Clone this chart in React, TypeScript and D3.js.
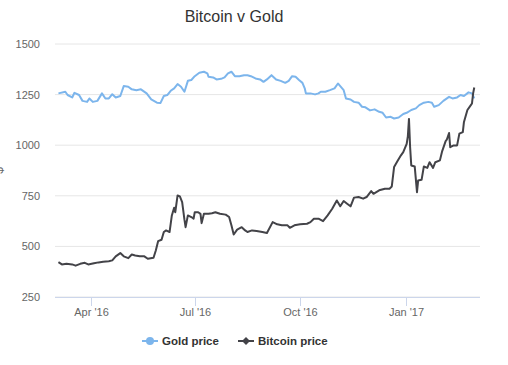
import { line, scaleLinear, scaleTime, timeParse } from 'd3'

const WIDTH = 508
const HEIGHT = 365
const LEFT = 55
const RIGHT = 480
const TOP = 44
const BOTTOM = 297

const goldDates = [
  '2016-03-04', '2016-03-10', '2016-03-12', '2016-03-16', '2016-03-18', '2016-03-22', '2016-03-25', '2016-03-29',
  '2016-03-31', '2016-04-03', '2016-04-07', '2016-04-11', '2016-04-14', '2016-04-17', '2016-04-20', '2016-04-23',
  '2016-04-27', '2016-04-30', '2016-05-04', '2016-05-07', '2016-05-11', '2016-05-15', '2016-05-20', '2016-05-24',
  '2016-05-29', '2016-06-01', '2016-06-04', '2016-06-07', '2016-06-10', '2016-06-13', '2016-06-16', '2016-06-19',
  '2016-06-22', '2016-06-25', '2016-06-28', '2016-07-01', '2016-07-05', '2016-07-09', '2016-07-12', '2016-07-13',
  '2016-07-17', '2016-07-20', '2016-07-24', '2016-07-27', '2016-07-30', '2016-08-02', '2016-08-05', '2016-08-09',
  '2016-08-13', '2016-08-16', '2016-08-19', '2016-08-23', '2016-08-27', '2016-08-30', '2016-09-02', '2016-09-06',
  '2016-09-10', '2016-09-14', '2016-09-18', '2016-09-21', '2016-09-24', '2016-09-27', '2016-09-30', '2016-10-03',
  '2016-10-05', '2016-10-06', '2016-10-10', '2016-10-14', '2016-10-17', '2016-10-19', '2016-10-23', '2016-10-27',
  '2016-10-31', '2016-11-03', '2016-11-05', '2016-11-08', '2016-11-10', '2016-11-14', '2016-11-17', '2016-11-21',
  '2016-11-24', '2016-11-27', '2016-12-01', '2016-12-05', '2016-12-09', '2016-12-12', '2016-12-15', '2016-12-19',
  '2016-12-22', '2016-12-26', '2016-12-30', '2017-01-02', '2017-01-06', '2017-01-10', '2017-01-13', '2017-01-17',
  '2017-01-21', '2017-01-24', '2017-01-26', '2017-01-30', '2017-02-03', '2017-02-08', '2017-02-11', '2017-02-15',
  '2017-02-18', '2017-02-21', '2017-02-25', '2017-02-28', '2017-03-02',
]
const goldPrices = [
  1256, 1264, 1248, 1236, 1259, 1248, 1219, 1214,
  1231, 1214, 1219, 1256, 1231, 1231, 1252, 1236,
  1243, 1292, 1289, 1276, 1272, 1276, 1256, 1226,
  1210, 1208, 1243, 1248, 1269, 1281, 1302, 1289,
  1264, 1318, 1322, 1341, 1358, 1363, 1355, 1338,
  1335, 1325, 1328, 1335, 1355, 1363, 1341, 1341,
  1346, 1346, 1341, 1330, 1325, 1313, 1325, 1346,
  1325, 1318, 1308, 1318, 1341, 1338, 1322, 1308,
  1281, 1256, 1256, 1251, 1256, 1264, 1264, 1272,
  1281, 1305, 1292, 1272, 1231, 1226, 1214, 1210,
  1190, 1187, 1172, 1177, 1165, 1160, 1137, 1140,
  1132, 1137, 1154, 1160, 1174, 1182, 1198, 1210,
  1214, 1210, 1190, 1198, 1219, 1239, 1231, 1236,
  1248, 1243, 1261, 1256, 1231,
]

const bitcoinDates = [
  '2016-03-04', '2016-03-07', '2016-03-11', '2016-03-16', '2016-03-19', '2016-03-23', '2016-03-27', '2016-03-30',
  '2016-04-04', '2016-04-08', '2016-04-12', '2016-04-17', '2016-04-20', '2016-04-23', '2016-04-27', '2016-04-30',
  '2016-05-04', '2016-05-07', '2016-05-10', '2016-05-14', '2016-05-18', '2016-05-21', '2016-05-26', '2016-05-28',
  '2016-05-30', '2016-06-02', '2016-06-04', '2016-06-06', '2016-06-09', '2016-06-11', '2016-06-13', '2016-06-14',
  '2016-06-16', '2016-06-18', '2016-06-20', '2016-06-22', '2016-06-23', '2016-06-25', '2016-06-28', '2016-06-30',
  '2016-07-01', '2016-07-04', '2016-07-06', '2016-07-07', '2016-07-09', '2016-07-13', '2016-07-16', '2016-07-19',
  '2016-07-23', '2016-07-28', '2016-07-31', '2016-08-02', '2016-08-04', '2016-08-07', '2016-08-11', '2016-08-14',
  '2016-08-16', '2016-08-20', '2016-08-24', '2016-08-29', '2016-09-02', '2016-09-07', '2016-09-11', '2016-09-15',
  '2016-09-20', '2016-09-22', '2016-09-26', '2016-10-01', '2016-10-07', '2016-10-10', '2016-10-13', '2016-10-17',
  '2016-10-21', '2016-10-25', '2016-10-29', '2016-11-02', '2016-11-05', '2016-11-08', '2016-11-11', '2016-11-14',
  '2016-11-17', '2016-11-21', '2016-11-25', '2016-11-28', '2016-12-02', '2016-12-04', '2016-12-09', '2016-12-14',
  '2016-12-18', '2016-12-20', '2016-12-22', '2016-12-25', '2016-12-28', '2016-12-30', '2017-01-02', '2017-01-03',
  '2017-01-04', '2017-01-05', '2017-01-06', '2017-01-09', '2017-01-11', '2017-01-12', '2017-01-15', '2017-01-17',
  '2017-01-20', '2017-01-22', '2017-01-25', '2017-01-27', '2017-01-31', '2017-02-02', '2017-02-05', '2017-02-06',
  '2017-02-08', '2017-02-09', '2017-02-12', '2017-02-15', '2017-02-17', '2017-02-20', '2017-02-21', '2017-02-24',
  '2017-02-27', '2017-02-28', '2017-03-01', '2017-03-02',
]
const bitcoinPrices = [
  422, 411, 414, 411, 405, 414, 419, 411,
  417, 421, 424, 427, 431, 451, 467, 451,
  442, 460, 455, 451, 451, 439, 444, 480,
  526, 533, 571, 579, 571, 653, 691, 669,
  752, 747, 719, 632, 595, 653, 645, 637,
  669, 669, 661, 615, 661, 661, 664, 669,
  661, 657, 645, 604, 559, 583, 595, 579,
  571, 579, 576, 571, 566, 620, 609, 604,
  604, 592, 604, 609, 612, 620, 637, 637,
  625, 653, 686, 727, 698, 724, 711, 698,
  741, 744, 736, 744, 773, 760, 777, 785,
  785, 796, 892, 922, 950, 966, 1007, 1043,
  1130, 990, 900, 895, 768, 826, 829, 895,
  888, 916, 888, 916, 925, 971, 1020, 1027,
  1060, 990, 999, 999, 1057, 1065, 1115, 1174,
  1198, 1206, 1256, 1285,
]

const yTicks = [250, 500, 750, 1000, 1250, 1500]
const xTickDates = ['2016-04-01', '2016-07-01', '2016-10-01', '2017-01-01']
const xTickLabels = ["Apr '16", "Jul '16", "Oct '16", "Jan '17"]
const seriesNames = ['Gold price', 'Bitcoin price']
const seriesColors = ['#7cb5ec', '#434348']

type Point = { date: Date; value: number }

const parseDate = timeParse('%Y-%m-%d')
const toPoints = (dates: string[], values: number[]): Point[] =>
  dates.map((d, i) => ({ date: parseDate(d) as Date, value: values[i] }))

const FONT = '"Liberation Sans", Arial, Helvetica, sans-serif'

export default function App() {
  const gold = toPoints(goldDates, goldPrices)
  const bitcoin = toPoints(bitcoinDates, bitcoinPrices)

  const xScale = scaleTime()
    .domain([parseDate('2016-03-01') as Date, parseDate('2017-03-07') as Date])
    .range([LEFT, RIGHT])
  const yScale = scaleLinear().domain([250, 1500]).range([BOTTOM, TOP])

  const path = line<Point>()
    .x((p) => xScale(p.date))
    .y((p) => yScale(p.value))

  const legendX = [142, 238]

  return (
    <svg
      width={WIDTH}
      height={HEIGHT}
      style={{ position: 'absolute', left: 0, top: 0, background: '#fff' }}
      fontFamily={FONT}
    >
      <text x={234} y={22} textAnchor="middle" fontSize={16} fill="#333333">
        Bitcoin v Gold
      </text>

      {yTicks.map((t) => (
        <g key={t}>
          <line x1={LEFT} x2={RIGHT} y1={yScale(t)} y2={yScale(t)} stroke="#e6e6e6" strokeWidth={1} />
          <text x={40} y={yScale(t) + 4} textAnchor="end" fontSize={11} fill="#666666">
            {t}
          </text>
        </g>
      ))}

      <text
        transform={`translate(3, ${(TOP + BOTTOM) / 2}) rotate(-90)`}
        textAnchor="middle"
        fontSize={12}
        fill="#666666"
      >
        $
      </text>

      <line x1={LEFT} x2={RIGHT} y1={BOTTOM + 0.5} y2={BOTTOM + 0.5} stroke="#ccd6eb" strokeWidth={1} />
      {xTickDates.map((d, i) => {
        const x = Math.round(xScale(parseDate(d) as Date)) + 0.5
        return (
          <g key={d}>
            <line x1={x} x2={x} y1={BOTTOM} y2={BOTTOM + 9} stroke="#ccd6eb" strokeWidth={1} />
            <text x={x} y={316} textAnchor="middle" fontSize={11} fill="#666666">
              {xTickLabels[i]}
            </text>
          </g>
        )
      })}

      <path d={path(gold) ?? ''} fill="none" stroke={seriesColors[0]} strokeWidth={2} strokeLinejoin="round" />
      <path d={path(bitcoin) ?? ''} fill="none" stroke={seriesColors[1]} strokeWidth={2} strokeLinejoin="round" />

      {seriesNames.map((name, i) => {
        const x = legendX[i]
        const cy = 341
        const cx = x + 8
        return (
          <g key={name}>
            <line x1={x} x2={x + 16} y1={cy} y2={cy} stroke={seriesColors[i]} strokeWidth={2} />
            {i === 0 ? (
              <circle cx={cx} cy={cy} r={4} fill={seriesColors[i]} />
            ) : (
              <path d={`M${cx},${cy - 4}L${cx + 4},${cy}L${cx},${cy + 4}L${cx - 4},${cy}Z`} fill={seriesColors[i]} />
            )}
            <text x={x + 20} y={cy + 4} fontSize={11.5} fontWeight="bold" fill="#333333">
              {name}
            </text>
          </g>
        )
      })}
    </svg>
  )
}
